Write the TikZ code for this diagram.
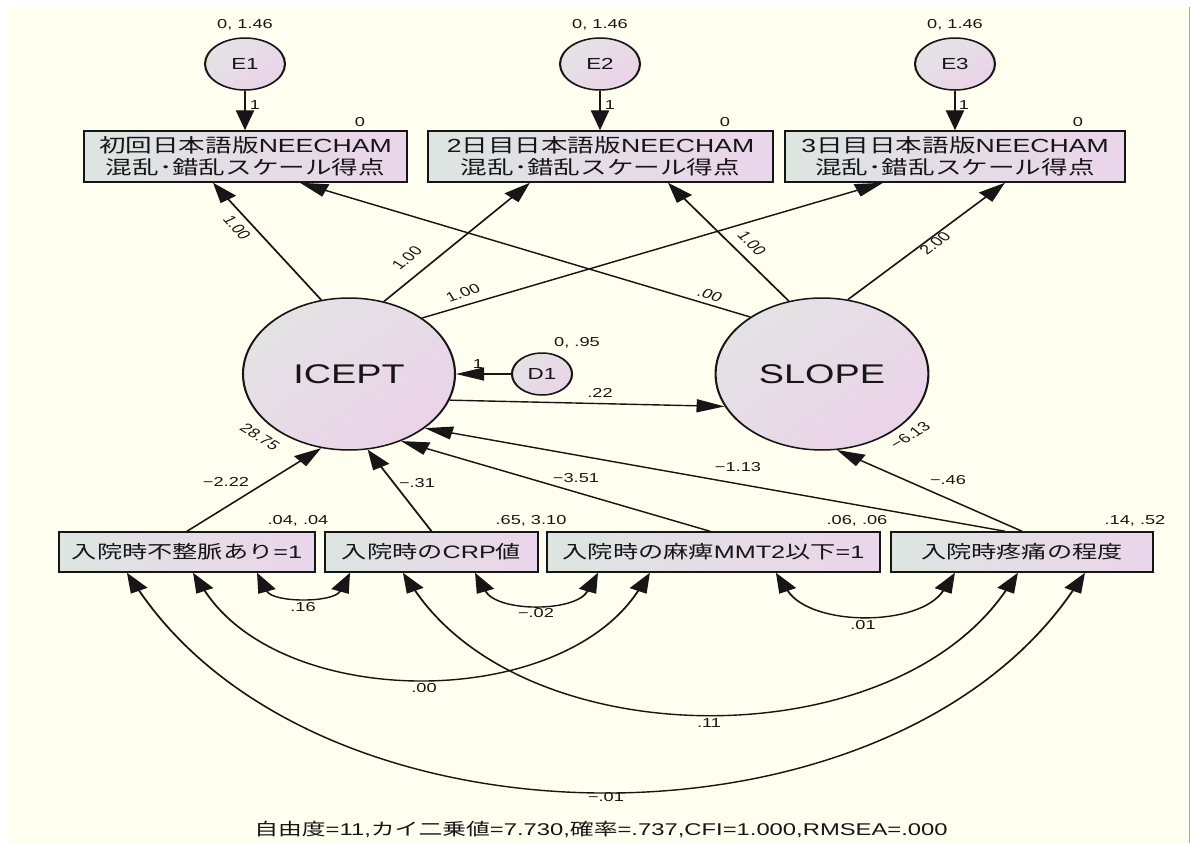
\documentclass[tikz,border=0pt]{standalone}
\usepackage{fontspec}
\setmainfont{Liberation Sans}
\newfontfamily\jp{Noto Sans CJK JP}
\usetikzlibrary{arrows.meta,shapes.geometric}
\definecolor{paper}{RGB}{255,255,240}
\definecolor{boxL}{RGB}{221,229,225}
\definecolor{boxR}{RGB}{235,213,234}
\definecolor{ovalT}{RGB}{227,227,229}
\definecolor{ovalB}{RGB}{235,211,232}
\definecolor{ink}{RGB}{22,22,22}
\tikzset{
  obs/.style={draw=ink, line width=1.5pt, rectangle, left color=boxL, right color=boxR,
    inner sep=0pt, text=ink, align=center},
  lat/.style={draw=ink, line width=1.5pt, ellipse, top color=ovalT, bottom color=ovalB,
    shading angle=45, inner sep=0pt, text=ink},
  tip/.tip={Triangle[length=20pt,width=13pt]},
  arr/.style={draw=ink, line width=1.4pt, -tip},
  cov/.style={draw=ink, line width=1.4pt, tip-tip},
  lbl/.style={text=ink, font=\fontsize{13}{15}\selectfont, inner sep=0pt},
  topfont/.style={font=\fontsize{19}{22}\selectfont},
  botfont/.style={font=\fontsize{18}{22}\selectfont},
}
\begin{document}
\begin{tikzpicture}[x=1pt,y=-1pt]
\useasboundingbox (0,0) rectangle (1192,843);
\fill[white] (0,0) rectangle (1192,843);
\fill[paper] (8,7) rectangle (1189,843);
\draw[gray!70, line width=1pt] (1189,7) -- (1189,843);

% the whole model is drawn with circles, then stretched sideways
\begin{scope}[transform canvas={xscale=1.4}, x=0.714286pt, y=-1pt]

% error terms
\node[lat, minimum width=57.1pt, minimum height=52pt, font=\fontsize{16}{18}\selectfont] (e1) at (245,64) {E1};
\node[lat, minimum width=57.1pt, minimum height=52pt, font=\fontsize{16}{18}\selectfont] (e2) at (600,64) {E2};
\node[lat, minimum width=57.1pt, minimum height=52pt, font=\fontsize{16}{18}\selectfont] (e3) at (955,64) {E3};

% repeated measures
\node[obs, topfont, minimum width=230.7pt, minimum height=51pt] (t1) at (245.5,156.5)
  {{\jp 初回日本語版}NEECHAM\\{\jp 混乱･錯乱スケール得点}};
\node[obs, topfont, minimum width=246.4pt, minimum height=51pt] (t2) at (600.5,156.5)
  {2{\jp 日目日本語版}NEECHAM\\{\jp 混乱･錯乱スケール得点}};
\node[obs, topfont, minimum width=242.9pt, minimum height=51pt] (t3) at (955,156.5)
  {3{\jp 日目日本語版}NEECHAM\\{\jp 混乱･錯乱スケール得点}};

% growth factors
\node[lat, minimum width=151.4pt, minimum height=152pt, font=\fontsize{27}{30}\selectfont] (ic) at (349,374) {ICEPT};
\node[lat, minimum width=152pt, minimum height=152pt, font=\fontsize{27}{30}\selectfont] (sl) at (822,374) {SLOPE};
\node[lat, minimum width=42.9pt, minimum height=42pt, font=\fontsize{16}{18}\selectfont] (d1) at (542,374) {D1};

% covariates
\node[obs, botfont, minimum width=182.9pt, minimum height=40pt] (b1) at (187,552) {{\jp 入院時不整脈あり}=1};
\node[obs, botfont, minimum width=152.1pt, minimum height=40pt] (b2) at (431.5,552) {{\jp 入院時の}CRP{\jp 値}};
\node[obs, botfont, minimum width=237.9pt, minimum height=40pt] (b3) at (713.5,552) {{\jp 入院時の麻痺}MMT2{\jp 以下}=1};
\node[obs, botfont, minimum width=187.1pt, minimum height=40pt] (b4) at (1022,552) {{\jp 入院時疼痛の程度}};

% measurement paths
\draw[arr] (e1.south) -- (t1.north -| e1.south);
\draw[arr] (e2.south) -- (t2.north -| e2.south);
\draw[arr] (e3.south) -- (t3.north -| e3.south);
\draw[arr] (ic.105.2) -- ([xshift=-23.2pt]t1.south);
\draw[arr] (ic.71.8) -- ([xshift=-50.4pt]t2.south);
\draw[arr] (ic.47.6) -- ([xshift=-51.4pt]t3.south);
\draw[arr] (sl.132.9) -- ([xshift=38.9pt]t1.south);
\draw[arr] (sl.108.2) -- ([xshift=48.2pt]t2.south);
\draw[arr] (sl.76.2) -- ([xshift=35.7pt]t3.south);

% structural paths
\draw[arr] (d1) -- (ic);
\draw[arr] (ic.-20.5) -- (sl.-155.2);
\draw[arr] (b1.north) -- (ic.-105.6);
\draw[arr] (b2.north) -- (ic.-80.4);
\draw[arr] ([xshift=-2.5pt]b3.north) -- (ic.-61.8);
\draw[arr] ([xshift=-12.1pt]b4.north) -- (ic.-45.2);
\draw[arr] (b4.north) -- (sl.-82);

% covariances among covariates
\draw[cov] ([xshift=50pt]b1.south) to[bend right=69, looseness=1.25] ([xshift=-58.2pt]b2.south);
\draw[cov] ([xshift=31.1pt]b2.south) to[bend right=68, looseness=1.25] ([xshift=-82.5pt]b3.south);
\draw[cov] ([xshift=44.6pt]b3.south) to[bend right=65, looseness=1.2] ([xshift=-47.9pt]b4.south);
\draw[cov] ([xshift=4.3pt]b1.south) to[bend right=65, looseness=1.2] ([xshift=-45.4pt]b3.south);
\draw[cov] ([xshift=-20.4pt]b2.south) to[bend right=64, looseness=1.2] ([xshift=-2.9pt]b4.south);
\draw[cov] ([xshift=-42.9pt]b1.south) to[bend right=64, looseness=1.2] ([xshift=45pt]b4.south);

% estimates
\node[lbl] (ve1) at (245,25) {0, 1.46};
\node[lbl] (ve2) at (600,25) {0, 1.46};
\node[lbl] (ve3) at (955,25) {0, 1.46};
\node[lbl] (we1) at (255,105) {1};
\node[lbl] (we2) at (610,105) {1};
\node[lbl] (we3) at (964,105) {1};
\node[lbl] (mt1) at (360,122) {0};
\node[lbl] (mt2) at (725,122) {0};
\node[lbl] (mt3) at (1078,122) {0};
\node[lbl, rotate=-56.6] (cit1) at (237,228) {1.00};
\node[lbl, rotate=48.3] (cit2) at (407,258) {1.00};
\node[lbl, rotate=24] (cit3) at (463,293) {1.00};
\node[lbl, rotate=-25] (cst1) at (710,295) {.00};
\node[lbl, rotate=-53.8] (cst2) at (752,243) {1.00};
\node[lbl, rotate=46] (cst3) at (935,243) {2.00};
\node[lbl] (vd1) at (577,343) {0, .95};
\node[lbl] (wd1) at (478,364) {1};
\node[lbl] (cis) at (600,393) {.22};
\node[lbl, rotate=-40] (mic) at (260,437) {28.75};
\node[lbl, rotate=40] (msl) at (910,435) {−6.13};
\node[lbl] (cb1) at (226,482) {−2.22};
\node[lbl] (cb2) at (417,483) {−.31};
\node[lbl] (cb3) at (576,478) {−3.51};
\node[lbl] (cb4i) at (738,467) {−1.13};
\node[lbl] (cb4s) at (948,480) {−.46};
\node[lbl] (vb1) at (298,521) {.04, .04};
\node[lbl] (vb2) at (531,521) {.65, 3.10};
\node[lbl] (vb3) at (857,521) {.06, .06};
\node[lbl] (vb4) at (1135,521) {.14, .52};
\node[lbl] (k12) at (303,607) {.16};
\node[lbl] (k23) at (536,613) {−.02};
\node[lbl] (k34) at (863,625) {.01};
\node[lbl] (k13) at (424,688) {.00};
\node[lbl] (k24) at (709,723) {.11};
\node[lbl] (k14) at (606,797) {−.01};

% fit summary
\node[text=ink, font=\fontsize{17}{20}\selectfont, inner sep=0pt] (fit) at (601,829)
  {{\jp 自由度}=11,{\jp カイ二乗値}=7.730,{\jp 確率}=.737,CFI=1.000,RMSEA=.000};
\end{scope}
\end{tikzpicture}
\end{document}
